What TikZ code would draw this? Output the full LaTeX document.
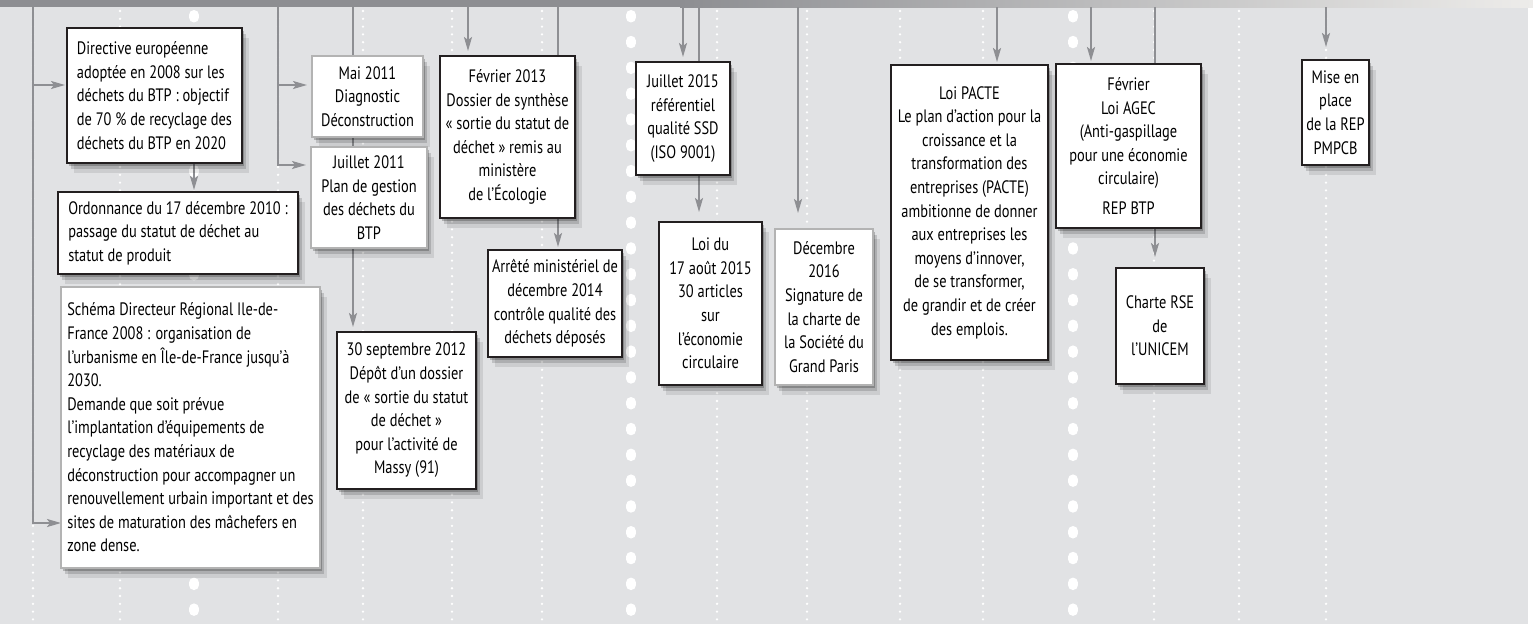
\documentclass[tikz,border=0pt]{standalone}
\usepackage{fontspec}
\setmainfont{PT Sans}[FakeStretch=0.8]
\usetikzlibrary{arrows.meta,shadows,calc}
\pgfdeclarelayer{bg}
\pgfdeclarelayer{dots}
\pgfdeclarelayer{lines}
\pgfsetlayers{bg,dots,lines,main}
\definecolor{bgc}{HTML}{E1E2E4}
\definecolor{band}{HTML}{8D8E92}
\definecolor{bandr}{HTML}{EDECEA}
\definecolor{linec}{HTML}{8E8F93}
\definecolor{boxk}{HTML}{231F20}
\definecolor{boxg}{HTML}{B3B3B3}
\tikzset{
  conn/.style={draw=linec, line width=2pt},
  arr/.style={conn, -{Stealth[length=14pt,width=8pt,inset=3pt]}},
  sdots/.style={draw=white, line width=2.6pt, line cap=round, dash pattern=on 0pt off 7.8pt},
  bdots/.style={draw=white, line width=10pt, line cap=round, dash pattern=on 2.5pt off 23.3pt},
  evt/.style={rectangle, fill=white, line width=2.2pt, inner sep=0pt, outer sep=0pt,
     anchor=north west, font=\fontsize{18}{23.6}\selectfont, align=center,
     general shadow={shadow xshift=2pt, shadow yshift=-3pt, fill=black, opacity=0.22},
     general shadow={shadow xshift=4pt, shadow yshift=-6pt, fill=black, opacity=0.15},
     general shadow={shadow xshift=7pt, shadow yshift=-10pt, fill=black, opacity=0.09}},
  kbox/.style={evt, draw=boxk},
  gbox/.style={evt, draw=boxg},
}
\begin{document}
\begin{tikzpicture}[x=1pt,y=-1pt]
\useasboundingbox (0,0) rectangle (1533,624);
\begin{pgfonlayer}{bg}
\fill[bgc] (0,0) rectangle (1528,624);
\fill[white] (1528,0) rectangle (1533,624);
\fill[band] (0,0) rectangle (680,7);
\shade[left color=band,right color=bandr] (680,0) rectangle (1533,7);
\end{pgfonlayer}
\begin{pgfonlayer}{dots}
\foreach \x in {33,120,278,363,452,542,717,807,900,983,1154,1239,1326}
  \draw[sdots] (\x,11) -- (\x,624);
\foreach \x in {194,631,1073}
  \draw[bdots] (\x,15) -- (\x,624);
\end{pgfonlayer}

\node[kbox, align=left, minimum width=175pt, minimum height=135pt] (directive) at (67,28)
 {Directive européenne\\adoptée en 2008 sur les\\déchets du BTP : objectif\\de 70 \% de recyclage des\\déchets du BTP en 2020};
\node[kbox, align=left, minimum width=240pt, minimum height=82pt] (ordonnance) at (58,192)
 {Ordonnance du 17 décembre 2010 :\\passage du statut de déchet au\\statut de produit};
\node[gbox, align=left, minimum width=259pt, minimum height=281pt] (schema) at (61,287)
 {Schéma Directeur Régional Ile-de-\\France 2008 : organisation de\\l’urbanisme en Île-de-France jusqu’à\\2030.\\Demande que soit prévue\\l’implantation d’équipements de\\recyclage des matériaux de\\déconstruction pour accompagner un\\renouvellement urbain important et des\\sites de maturation des mâchefers en\\zone dense.};
\node[gbox, minimum width=111pt, minimum height=81pt] (mai) at (312,56)
 {Mai 2011\\Diagnostic\\Déconstruction};
\node[gbox, minimum width=116pt, minimum height=101pt] (juil11) at (311,147)
 {Juillet 2011\\Plan de gestion\\des déchets du\\BTP};
\node[kbox, minimum width=135pt, minimum height=162pt] (fev13) at (440,56)
 {Février 2013\\Dossier de synthèse\\« sortie du statut de\\déchet » remis au\\ministère\\de l’Écologie};
\node[kbox, minimum width=139pt, minimum height=157pt] (sept12) at (337,332)
 {30 septembre 2012\\Dépôt d’un dossier\\de « sortie du statut\\de déchet »\\pour l’activité de\\Massy (91)};
\node[kbox, minimum width=134pt, minimum height=107pt] (arrete) at (488,250)
 {Arrêté ministériel de\\décembre 2014\\contrôle qualité des\\déchets déposés};
\node[kbox, minimum width=94pt, minimum height=113pt] (juil15) at (636,62)
 {Juillet 2015\\référentiel\\qualité SSD\\(ISO 9001)};
\node[kbox, minimum width=103pt, minimum height=163pt] (loi15) at (659,222)
 {Loi du\\17 août 2015\\30 articles\\sur\\l’économie\\circulaire};
\node[gbox, minimum width=98pt, minimum height=156pt] (dec16) at (775,229)
 {Décembre\\2016\\Signature de\\la charte de\\la Société du\\Grand Paris};
\node[kbox, minimum width=157pt, minimum height=295pt] (pacte) at (891,65)
 {Loi PACTE\\Le plan d’action pour la\\croissance et la\\transformation des\\entreprises (PACTE)\\ambitionne de donner\\aux entreprises les\\moyens d’innover,\\de se transformer,\\de grandir et de créer\\des emplois.};
\node[kbox, minimum width=145pt, minimum height=164pt] (agec) at (1056,64)
 {Février\\Loi AGEC\\(Anti-gaspillage\\pour une économie\\circulaire)\\[6pt]REP BTP};
\node[kbox, minimum width=88pt, minimum height=116pt] (rse) at (1116,268)
 {Charte RSE\\de\\l’UNICEM};
\node[kbox, minimum width=67pt, minimum height=105pt] (rep) at (1302,60)
 {Mise en\\place\\de la REP\\PMPCB};

\begin{pgfonlayer}{lines}
\coordinate (t33) at (33,7);
\coordinate (j85) at (33,85);
\coordinate (j523) at (33,523);
\coordinate (x194) at (194,0);
\coordinate (t278) at (278,7);
\coordinate (k85) at (278,85);
\coordinate (k165) at (278,165);
\coordinate (t353) at (353,7);
\coordinate (t468) at (468,7);
\coordinate (t558) at (558,7);
\coordinate (t683) at (683,7);
\coordinate (t699) at (699,7);
\coordinate (t798) at (798,7);
\coordinate (t997) at (997,7);
\coordinate (t1091) at (1091,7);
\coordinate (t1155) at (1155,7);
\coordinate (t1326) at (1326,7);
\draw[arr] (t33) -- (j523) -- (j523 -| schema.west);
\draw[arr, shorten >=2pt] (j85) -- (j85 -| directive.west);
\draw[arr, shorten >=2pt] (directive.south -| x194) -- (ordonnance.north -| x194);
\draw[arr, shorten >=5pt] (t278) -- (k165) -- (k165 -| juil11.west);
\draw[arr, shorten >=5pt] (k85) -- (k85 -| mai.west);
\draw[arr, shorten >=5pt] (t353) -- (sept12.north -| t353);
\draw[arr, shorten >=5pt] (t468) -- (fev13.north -| t468);
\draw[arr, shorten >=3pt] (t558) -- (arrete.north -| t558);
\draw[arr, shorten >=5pt] (t683) -- (juil15.north -| t683);
\draw[arr, shorten >=10pt] (t699) -- (loi15.north -| t699);
\draw[arr, shorten >=16pt] (t798) -- (dec16.north -| t798);
\draw[arr, shorten >=3pt] (t997) -- (pacte.north -| t997);
\draw[arr, shorten >=3pt] (t1091) -- (agec.north -| t1091);
\draw[arr, shorten >=11pt] (t1155) -- (rse.north -| t1155);
\draw[arr, shorten >=13pt] (t1326) -- (rep.north -| t1326);
\end{pgfonlayer}
\end{tikzpicture}
\end{document}
